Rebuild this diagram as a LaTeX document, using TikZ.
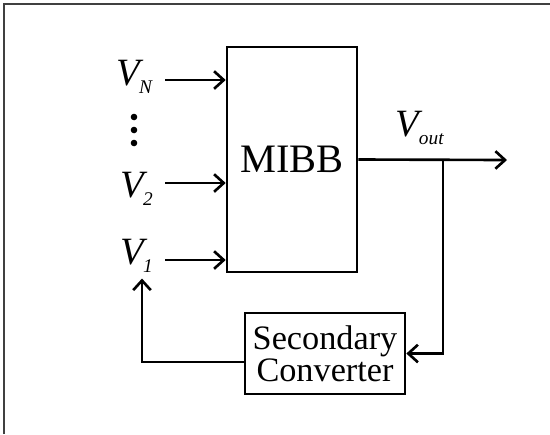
\documentclass[tikz,border=0pt]{standalone}
\usepackage{fontspec}
\setmainfont{Liberation Serif}
\usetikzlibrary{arrows.meta}
\tikzset{
  blockbox/.style={draw, line width=1.5pt, inner sep=2pt, align=center},
  sig/.style={line width=1.5pt, -{Straight Barb[length=5.5pt,width=10pt,line width=1.5pt]}},
  vlabel/.style={inner sep=1pt, font=\fontsize{22}{24}\selectfont},
}
\newcommand{\volt}[1]{\textit{V}\kern-2.5pt\raisebox{-0.22em}{\fontsize{11}{11}\selectfont\textit{#1}}}
\begin{document}
\begin{tikzpicture}[x=0.02cm,y=-0.02cm]
\useasboundingbox (0,0) rectangle (550,434);
\draw[line width=0.8pt, black!75] (4,434) -- (4,4) -- (550,4);
\node[blockbox, minimum width=2.6cm, minimum height=4.5cm, font=\fontsize{23}{26}\selectfont] (mibb) at (292,159.5) {MIBB};
\node[blockbox, minimum width=3.2cm, minimum height=1.62cm, font=\fontsize{19.5}{20}\selectfont] (sec) at (325,353.5) {Secondary\\[-2pt]Converter};
\node[vlabel, anchor=east] (vn) at (155,77) {\volt{N}};
\node[vlabel, anchor=east] (v2) at (155,189) {\volt{2}};
\node[vlabel, anchor=east] (v1) at (155,256) {\volt{1}};
\node[vlabel] (vout) at (420,128) {\volt{out}};
\foreach \y in {117,130,143}
  \fill (134,\y) circle (3.3);
\coordinate (out) at (507,160);
\coordinate (tap) at (443,160);
\draw[sig] (vn.east |- 0,80) ++(10,0) -- (mibb.west |- 0,80);
\draw[sig] (v2.east |- 0,183) ++(10,0) -- (mibb.west |- 0,183);
\draw[sig] (v1.east |- 0,260) ++(10,0) -- (mibb.west |- 0,260);
\draw[sig] (mibb.east) -- (out);
\draw[sig] (tap) |- (sec.east);
\draw[sig] ([yshift=-0.17cm]sec.west) -| ([yshift=-2pt]v1.south -| 142,0);
\end{tikzpicture}
\end{document}
